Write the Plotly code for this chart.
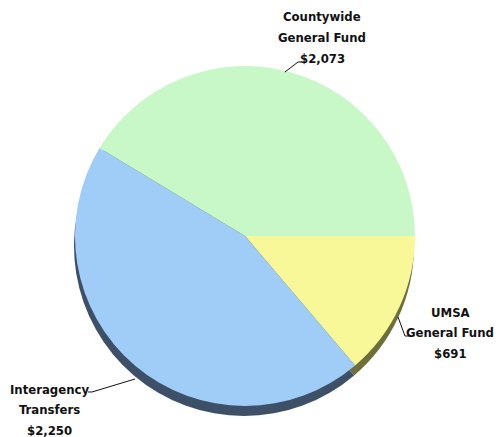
import plotly.graph_objects as go

labels = ["UMSA<br>General Fund", "Interagency<br>Transfers", "Countywide<br>General Fund"]
values = [691, 2250, 2073]
value_text = ["$691", "$2,250", "$2,073"]
colors = ["#F8F898", "#A0CCF8", "#C8F8C8"]
shadow_colors = ["#6E6E3A", "#3E5068", "#3E5068"]

W, H = 499, 437
# pie box in pixels
cx, cy, r = 245, 236, 170
dom_x = [(cx - r) / W, (cx + r) / W]
dom_y = [1 - (cy + r) / H, 1 - (cy - r) / H]
sh = 10
dom_y_sh = [1 - (cy + r + sh) / H, 1 - (cy - r + sh) / H]
dom_x_sh = [(cx - r - 1) / W, (cx + r - 1) / W]

fig = go.Figure()
fig.add_trace(go.Pie(
    labels=labels, values=values, sort=False, direction="clockwise", rotation=90,
    marker=dict(colors=shadow_colors, line=dict(width=0)),
    textinfo="none", hoverinfo="skip", showlegend=False,
    domain=dict(x=dom_x_sh, y=dom_y_sh),
))
fig.add_trace(go.Pie(
    labels=labels, values=values, sort=False, direction="clockwise", rotation=90,
    marker=dict(colors=colors, line=dict(width=0)),
    textinfo="none", showlegend=False,
    domain=dict(x=dom_x, y=dom_y),
))

font = dict(family="DejaVu Sans Condensed, sans-serif", size=13, color="#111111")
# label block anchors (center x, y of first line), line spacing 20.5 px
label_pos = [(450, 312), (49, 389), (322, 17)]
for (lx, ly), lab, vt in zip(label_pos, labels, value_text):
    lines = lab.split("<br>") + [vt]
    for i, line in enumerate(lines):
        fig.add_annotation(
            x=lx / W, y=1 - (ly + i * 20.5) / H, xref="paper", yref="paper",
            text="<b>" + line + "</b>", showarrow=False,
            font=font, align="center", xanchor="center", yanchor="middle",
        )

leaders = [
    [(398, 317), (405, 336), (410, 336)],
    [(135, 379), (92, 392), (88, 392)],
    [(285, 72), (298, 62), (301, 62)],
]
for pts in leaders:
    path = "M " + " L ".join(f"{x / W:.4f},{1 - y / H:.4f}" for x, y in pts)
    fig.add_shape(type="path", path=path, xref="paper", yref="paper",
                  line=dict(color="#111111", width=1))

fig.update_layout(
    width=W, height=H, margin=dict(l=0, r=0, t=0, b=0),
    paper_bgcolor="white", plot_bgcolor="white",
)
fig.write_html("out.html")
